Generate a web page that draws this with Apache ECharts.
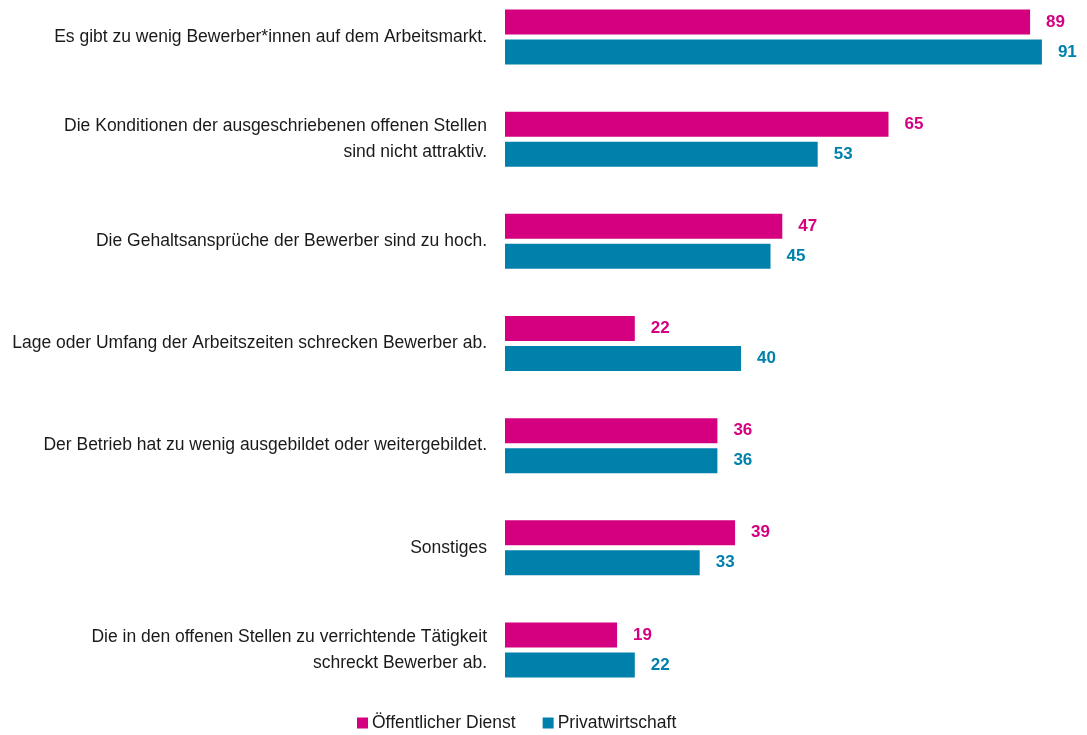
<!DOCTYPE html>
<html><head><meta charset="utf-8">
<script src="https://cdn.jsdelivr.net/npm/echarts@6/dist/echarts.min.js"></script>
<style>html,body{margin:0;padding:0;background:#fff}#c{width:1087px;height:735px}</style>
</head><body><div id="c"></div>
<script>
const categories = [
  "Es gibt zu wenig Bewerber*innen auf dem Arbeitsmarkt.",
  "Die Konditionen der ausgeschriebenen offenen Stellen\nsind nicht attraktiv.",
  "Die Gehaltsansprüche der Bewerber sind zu hoch.",
  "Lage oder Umfang der Arbeitszeiten schrecken Bewerber ab.",
  "Der Betrieb hat zu wenig ausgebildet oder weitergebildet.",
  "Sonstiges",
  "Die in den offenen Stellen zu verrichtende Tätigkeit\nschreckt Bewerber ab."
];
const oeffentlich = [89, 65, 47, 22, 36, 39, 19];
const privat = [91, 53, 45, 40, 36, 33, 22];
const seriesNames = ["Öffentlicher Dienst", "Privatwirtschaft"];
const colors = ["#D5007F", "#0081AC"];
const font = "'Liberation Sans', Arial, sans-serif";

const chart = echarts.init(document.getElementById('c'));
function mk(name, data, color) {
  return {
    name, type: 'bar', data, barWidth: 25, barGap: '20%',
    itemStyle: { color },
    label: { show: true, position: 'right', distance: 16, color, fontWeight: 'bold', fontSize: 17, fontFamily: font },
    animation: false
  };
}
chart.setOption({
  animation: false,
  grid: { left: 505, top: -14, width: 590, height: 715, outerBoundsMode: 'none', containLabel: false },
  xAxis: { type: 'value', min: 0, max: 100, show: false },
  yAxis: {
    type: 'category', data: categories, inverse: true,
    axisLine: { show: false }, axisTick: { show: false },
    axisLabel: { margin: 18, color: '#1a1a1a', fontSize: 17.5, fontFamily: font, lineHeight: 26, align: 'right', padding: [6, 0, 0, 0] }
  },
  legend: {
    top: 709, left: 352, itemWidth: 11, itemHeight: 11, itemGap: 27,
    icon: 'rect',
    textStyle: { fontSize: 17.5, fontFamily: font, color: '#1a1a1a', padding: [0, 0, 0, -1] },
    data: seriesNames
  },
  series: [mk(seriesNames[0], oeffentlich, colors[0]), mk(seriesNames[1], privat, colors[1])]
});
</script></body></html>
